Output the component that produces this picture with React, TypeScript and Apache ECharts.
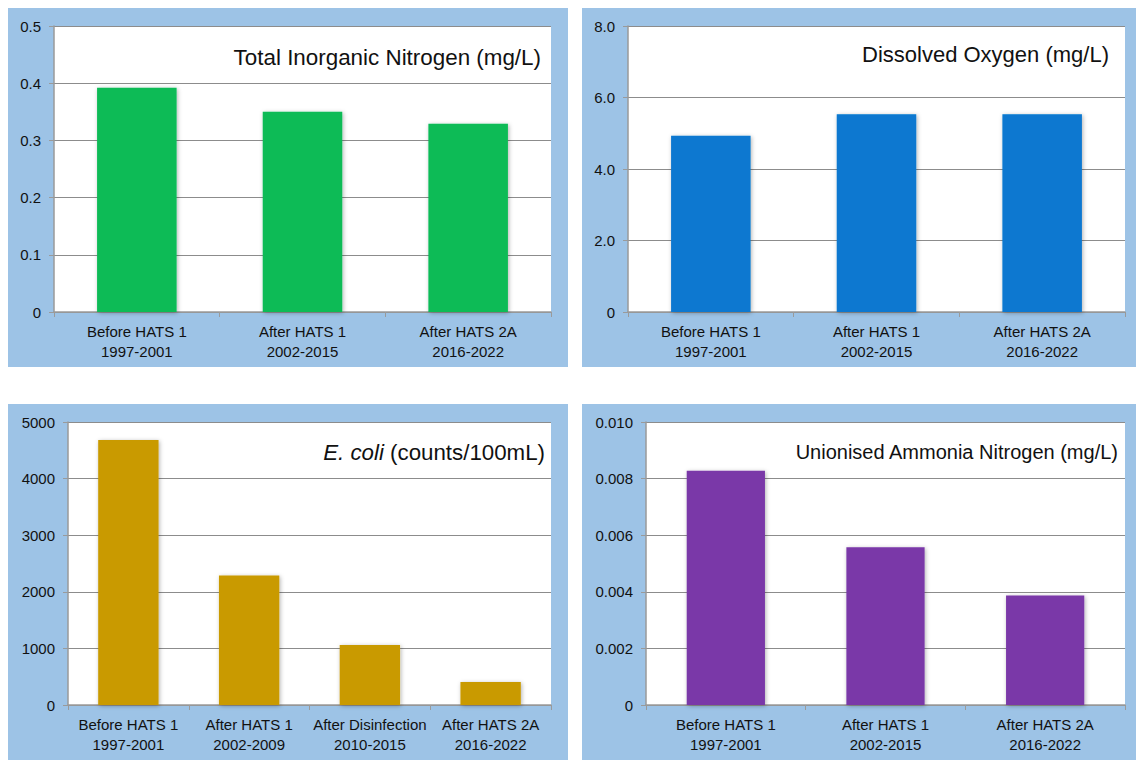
import React, { useEffect, useRef } from "react";
import * as echarts from "echarts";

const cats3a = ["Before HATS 1\n1997-2001", "After HATS 1\n2002-2015", "After HATS 2A\n2016-2022"];
const cats4 = ["Before HATS 1\n1997-2001", "After HATS 1\n2002-2009", "After Disinfection\n2010-2015", "After HATS 2A\n2016-2022"];

const tinValues = [0.392, 0.35, 0.329];
const doValues = [4.93, 5.53, 5.53];
const ecoliValues = [4680, 2290, 1060, 405];
const ammoniaValues = [0.00828, 0.00557, 0.00387];

const titles = [
  "Total Inorganic Nitrogen (mg/L)",
  "Dissolved Oxygen (mg/L)",
  "{i|E. coli} (counts/100mL)",
  "Unionised Ammonia Nitrogen (mg/L)",
];

const FONT = "'Liberation Sans', Arial, sans-serif";

export default function App() {
  const ref = useRef<HTMLDivElement>(null);
  useEffect(() => {
    if (!ref.current) return;
    const chart = echarts.init(ref.current, undefined, { renderer: "svg" });

    const panels = [
      { x: 8, y: 8, w: 560, h: 359 },
      { x: 582, y: 8, w: 554, h: 359 },
      { x: 8, y: 404, w: 560, h: 356 },
      { x: 582, y: 404, w: 554, h: 356 },
    ];
    const grids = [
      { left: 54, top: 26, width: 497, height: 286 },
      { left: 628, top: 26, width: 497, height: 286 },
      { left: 68, top: 422, width: 483, height: 283 },
      { left: 646, top: 422, width: 479, height: 283 },
    ];
    const yAxes = [
      { max: 0.5, interval: 0.1, fmt: (v: number) => (v === 0 ? "0" : v.toFixed(1)) },
      { max: 8, interval: 2, fmt: (v: number) => (v === 0 ? "0" : v.toFixed(1)) },
      { max: 5000, interval: 1000, fmt: (v: number) => String(Math.round(v)) },
      { max: 0.01, interval: 0.002, fmt: (v: number) => (v === 0 ? "0" : v.toFixed(3)) },
    ];
    const cats = [cats3a, cats3a, cats4, cats3a];
    const values = [tinValues, doValues, ecoliValues, ammoniaValues];
    const colors = ["#09BB57", "#0878D0", "#C99A06", "#7A37A8"];
    const barW = ["48%", "48%", "50%", "49%"];
    const titlePos = [
      { x: 541, y: 57, size: 22.4 },
      { x: 1109, y: 54, size: 22 },
      { x: 545, y: 452, size: 22.3 },
      { x: 1118, y: 452, size: 20 },
    ];

    const option: any = {
      animation: false,
      textStyle: { fontFamily: FONT },
      graphic: [
        ...panels.map((p) => ({
          type: "rect",
          z: -10,
          shape: { x: p.x, y: p.y, width: p.w, height: p.h },
          style: { fill: "#9DC3E6" },
        })),
        ...titles.map((t, i) => ({
          type: "text",
          z: 100,
          x: titlePos[i].x,
          y: titlePos[i].y,
          style: {
            text: t,
            align: "right",
            verticalAlign: "middle",
            fontFamily: FONT,
            fontSize: titlePos[i].size,
            fill: "#111",
            rich: {
              i: { fontStyle: "italic", fontSize: titlePos[i].size, fontFamily: FONT, fill: "#111" },
            },
          },
        })),
      ],
      grid: grids.map((g) => ({
        ...g,
        show: true,
        backgroundColor: "#ffffff",
        borderWidth: 0,
        containLabel: false,
      })),
      xAxis: cats.map((c, i) => ({
        type: "category",
        gridIndex: i,
        data: c,
        axisLine: { lineStyle: { color: "#9a9a9a", width: 1.5 } },
        axisTick: { show: true, length: 5, lineStyle: { color: "#9a9a9a" }, alignWithLabel: false },
        axisLabel: { color: "#111", fontSize: 15, lineHeight: 20, margin: 9, fontFamily: FONT, interval: 0 },
        splitLine: { show: false },
      })),
      yAxis: yAxes.map((y, i) => ({
        type: "value",
        gridIndex: i,
        min: 0,
        max: y.max,
        interval: y.interval,
        axisLine: { show: true, lineStyle: { color: "#9a9a9a", width: 1.5 } },
        axisTick: { show: true, length: 5, inside: false, lineStyle: { color: "#9a9a9a" } },
        axisLabel: { color: "#111", fontSize: 15, margin: 13, fontFamily: FONT, formatter: y.fmt },
        splitLine: { show: true, lineStyle: { color: "#8c8c8c", width: 1 } },
      })),
      series: values.map((v, i) => ({
        type: "bar",
        xAxisIndex: i,
        yAxisIndex: i,
        data: v,
        barWidth: barW[i],
        itemStyle: {
          color: colors[i],
          shadowBlur: 4,
          shadowColor: "rgba(0,0,0,0.3)",
          shadowOffsetX: 1,
          shadowOffsetY: 1,
        },
      })),
    };
    chart.setOption(option);
    return () => chart.dispose();
  }, []);

  return (
    <div
      ref={ref}
      style={{ position: "absolute", left: 0, top: 0, width: 1136, height: 760, background: "#fff" }}
    />
  );
}
